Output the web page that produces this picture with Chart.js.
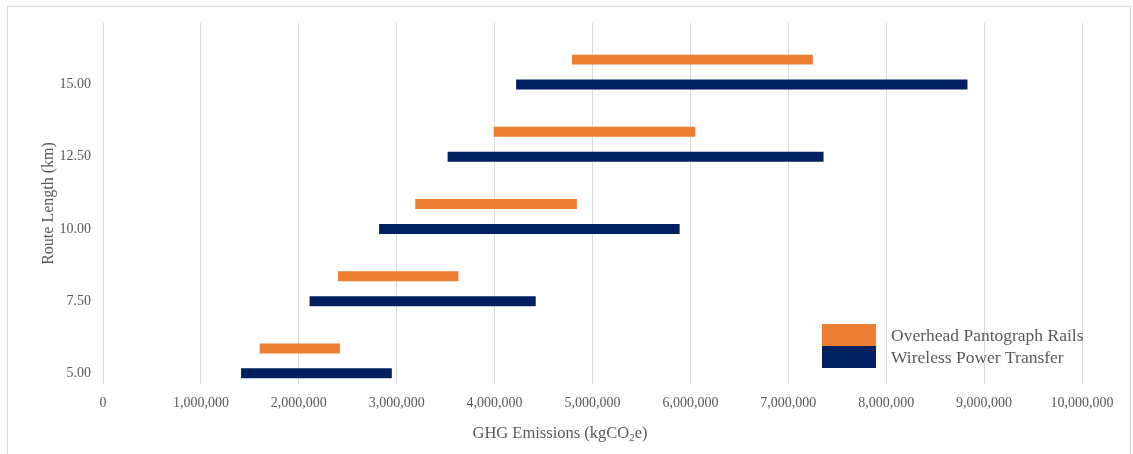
<!DOCTYPE html>
<html>
<head>
<meta charset="utf-8">
<script src="https://cdn.jsdelivr.net/npm/chart.js@4.4.0/dist/chart.umd.min.js"></script>
<style>
    html, body { margin: 0; padding: 0; background: #fff; }
    #frame { position: absolute; left: 7px; top: 6px; width: 1122px; height: 470px; border: 1px solid #d9d9d9; }
    #wrap { position: absolute; left: 0; top: 0; width: 1133px; height: 454px; }
</style>
</head>
<body>
<div id="frame"></div>
<div id="wrap"><canvas id="chartGhg" width="1133" height="454"></canvas></div>
<script>
// === DATA ===
const routeLengths = [5, 7.5, 10, 12.5, 15];

// emission ranges (kgCO2e), low / high per route length
const pantographLow  = [1600000, 2400000, 3190000, 3990000, 4790000];
const pantographHigh = [2420000, 3630000, 4840000, 6050000, 7250000];
const wptLow  = [1410000, 2110000, 2820000, 3520000, 4220000];
const wptHigh = [2950000, 4420000, 5890000, 7360000, 8830000];

const xTicksMax = 10000000;
const xTickStep = 1000000;

const seriesNames = ["Overhead Pantograph Rails", "Wireless Power Transfer"];
const seriesColors = ["#ED7D31", "#002060"];

const FONT = "'Liberation Serif', 'Times New Roman', serif";
const TXT = "#595959";

function toRanges(lows, highs) {
    return routeLengths.map((km, i) => ({ y: km, x: [lows[i], highs[i]] }));
}

// === AXIS TITLE + LEGEND ===
const extras = {
    id: "extras",
    afterDraw(chart) {
        const ctx = chart.ctx;
        ctx.save();
        ctx.fillStyle = TXT;
        ctx.textBaseline = "middle";

        // x title with subscript
        const big = "16.5px " + FONT, small = "11px " + FONT;
        const partA = "GHG Emissions (kgCO", partB = "2", partC = "e)";
        ctx.font = big;
        const wA = ctx.measureText(partA).width, wC = ctx.measureText(partC).width;
        ctx.font = small;
        const wB = ctx.measureText(partB).width;
        let x = 560 - (wA + wB + wC) / 2;
        const y = 434;
        ctx.textAlign = "left";
        ctx.font = big; ctx.fillText(partA, x, y); x += wA;
        ctx.font = small; ctx.fillText(partB, x, y + 4); x += wB;
        ctx.font = big; ctx.fillText(partC, x, y);

        // legend: stacked swatches
        ctx.font = "17.5px " + FONT;
        chart.data.datasets.forEach((ds, i) => {
            const top = 324 + i * 22;
            ctx.fillStyle = ds.backgroundColor;
            ctx.fillRect(822, top, 54, 22);
            ctx.fillStyle = TXT;
            ctx.fillText(ds.label, 891, top + 12);
        });
        ctx.restore();
    }
};

// === CHART ===
Chart.defaults.font.family = FONT;
Chart.defaults.color = TXT;

new Chart(document.getElementById("chartGhg"), {
    type: "bar",
    data: {
        datasets: [
            {
                label: seriesNames[0],
                data: toRanges(pantographLow, pantographHigh),
                backgroundColor: seriesColors[0]
            },
            {
                label: seriesNames[1],
                data: toRanges(wptLow, wptHigh),
                backgroundColor: seriesColors[1]
            }
        ]
    },
    options: {
        indexAxis: "y",
        responsive: false,
        animation: false,
        layout: { padding: { top: 23, right: 51, bottom: 0, left: 30 } },
        datasets: {
            bar: {
                categoryPercentage: 0.69,
                barPercentage: 0.4,
                borderWidth: 0,
                borderSkipped: false
            }
        },
        scales: {
            x: {
                type: "linear",
                min: 0,
                max: xTicksMax,
                grid: { color: "#d9d9d9", drawTicks: false },
                border: { display: false },
                ticks: {
                    stepSize: xTickStep,
                    maxRotation: 0,
                    autoSkip: false,
                    padding: 11,
                    font: { size: 14 },
                    color: TXT,
                    callback: v => v.toLocaleString("en-US")
                },
                afterFit(scale) {
                    scale.height = 70;
                    scale.paddingLeft = 0;
                    scale.paddingRight = 0;
                }
            },
            y: {
                type: "linear",
                offset: false,
                min: 4.2,
                max: 16.7,
                grid: { display: false, drawTicks: false, offset: false },
                border: { display: false },
                ticks: {
                    padding: 12,
                    labelOffset: 12.5,
                    font: { size: 14 },
                    color: TXT,
                    callback: v => Number(v).toFixed(2)
                },
                afterBuildTicks(scale) {
                    scale.ticks = routeLengths.map(v => ({ value: v }));
                },
                afterFit(scale) {
                    scale.width = 73;
                    scale.paddingTop = 0;
                    scale.paddingBottom = 0;
                },
                title: {
                    display: true,
                    text: "Route Length (km)",
                    color: TXT,
                    font: { size: 16 },
                    padding: { top: 9, bottom: 0 }
                }
            }
        },
        plugins: {
            legend: { display: false },
            tooltip: { enabled: false }
        }
    },
    plugins: [extras]
});
</script>
</body>
</html>
